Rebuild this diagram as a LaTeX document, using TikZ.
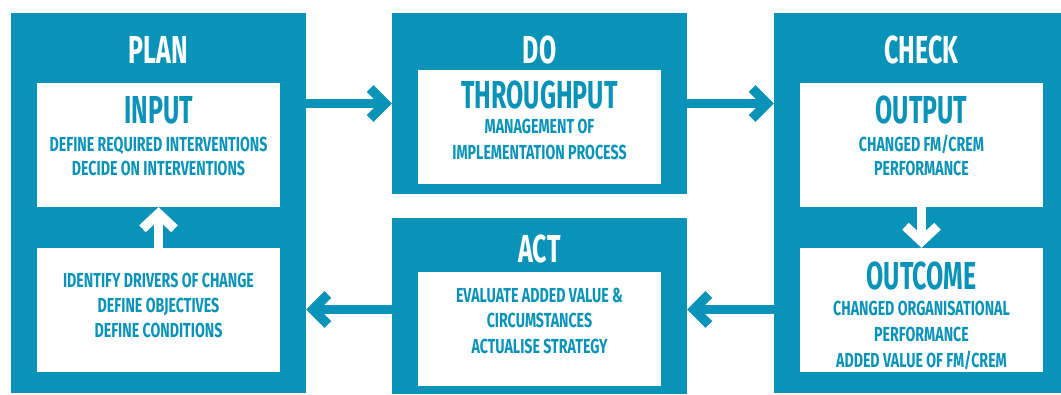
\documentclass[tikz,border=0pt]{standalone}
\usepackage{fontspec}
\setmainfont{Fira Sans}[FakeStretch=0.64]
\newfontfamily\subfont{Fira Sans}[FakeStretch=0.70]
\usetikzlibrary{arrows.meta}
\definecolor{pblue}{RGB}{9,147,184}
\tikzset{
  outerbox/.style={fill=pblue, draw=none, inner sep=0, minimum width=295pt},
  innerbox/.style={fill=white, draw=none, inner sep=0, minimum width=243pt},
  hdr/.style={anchor=base, inner sep=0, text=white, font=\bfseries\fontsize{39}{39}\selectfont},
  ttl/.style={anchor=base, inner sep=0, text=pblue, font=\bfseries\fontsize{39}{39}\selectfont},
  lbl/.style={anchor=base, inner sep=0, text=pblue, font=\subfont\bfseries\fontsize{20.3}{20}\selectfont},
  conn/.style={line width=9.5pt, draw=pblue,
    -{Straight Barb[length=15pt, width=30pt, line join=miter, line cap=butt]}},
  wconn/.style={line width=9.5pt, draw=white,
    -{Straight Barb[length=15pt, width=32pt, line join=miter, line cap=butt]}}
}
\begin{document}
\begin{tikzpicture}[x=1pt, y=-1pt]
\useasboundingbox (0,0) rectangle (1061,394);
% outer boxes
\node[outerbox, minimum height=380pt] (plan) at (158.5,203) {};
\node[outerbox, minimum height=181pt] (do) at (539.5,103.5) {};
\node[outerbox, minimum height=176pt] (act) at (539.5,306) {};
\node[outerbox, minimum width=287pt, minimum height=380pt] (check) at (917.5,203) {};
% inner boxes
\node[innerbox, minimum height=124pt] (input) at (158.5,145) {};
\node[innerbox, minimum height=124pt] (drivers) at (158.5,310) {};
\node[innerbox, minimum height=114pt] (through) at (539.5,127) {};
\node[innerbox, minimum height=114pt] (evaluate) at (539.5,329) {};
\node[innerbox, minimum height=124pt] (output) at (921.5,145) {};
\node[innerbox, minimum height=124pt] (outcome) at (921.5,310) {};
% headers
\node[hdr] (tplan) at (158.5,63) {PLAN};
\node[hdr] (tdo) at (539.5,63) {DO};
\node[hdr] (tcheck) at (921.5,63) {CHECK};
\node[hdr] (tact) at (539.5,262) {ACT};
% PLAN texts
\node[ttl] (tinput) at (158.5,123) {INPUT};
\node[lbl] (l1) at (158.5,151) {DEFINE REQUIRED INTERVENTIONS};
\node[lbl] (l2) at (158.5,175) {DECIDE ON INTERVENTIONS};
\node[lbl] (l3) at (158.5,287) {IDENTIFY DRIVERS OF CHANGE};
\node[lbl] (l4) at (158.5,312) {DEFINE OBJECTIVES};
\node[lbl] (l5) at (158.5,337) {DEFINE CONDITIONS};
% DO texts
\node[ttl] (tthrough) at (539.5,108) {THROUGHPUT};
\node[lbl] (l6) at (539.5,133) {MANAGEMENT OF};
\node[lbl] (l7) at (539.5,159) {IMPLEMENTATION PROCESS};
% ACT texts
\node[lbl] (l8) at (539.5,302) {EVALUATE ADDED VALUE \&};
\node[lbl] (l9) at (539.5,327) {CIRCUMSTANCES};
\node[lbl] (l10) at (539.5,353) {ACTUALISE STRATEGY};
% CHECK texts
\node[ttl] (toutput) at (921.5,123) {OUTPUT};
\node[lbl] (l11) at (921.5,151) {CHANGED FM/CREM};
\node[lbl] (l12) at (921.5,175) {PERFORMANCE};
\node[ttl] (toutcome) at (921.5,289) {OUTCOME};
\node[lbl] (l13) at (921.5,315) {CHANGED ORGANISATIONAL};
\node[lbl] (l14) at (921.5,341) {PERFORMANCE};
\node[lbl] (l15) at (921.5,367) {ADDED VALUE OF FM/CREM};
% connectors
\coordinate (rowA) at (0,103.5);
\coordinate (rowB) at (0,309.5);
\draw[conn] (plan.east |- rowA) -- (do.west |- rowA);
\draw[conn] (do.east |- rowA) -- (check.west |- rowA);
\draw[conn] (check.west |- rowB) -- (act.east |- rowB);
\draw[conn] (act.west |- rowB) -- (plan.east |- rowB);
\draw[wconn] (drivers.north) -- (input.south);
\draw[wconn] (output.south) -- (outcome.north);
\end{tikzpicture}
\end{document}
